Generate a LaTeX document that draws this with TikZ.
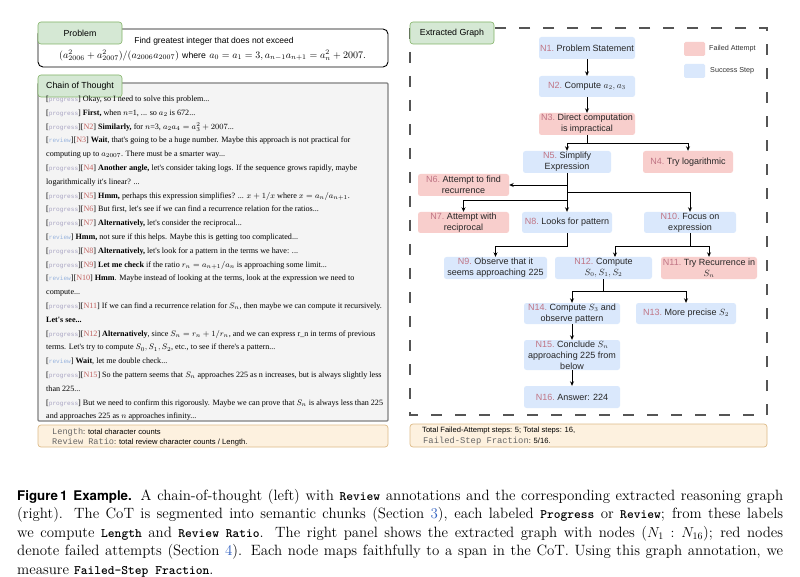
\documentclass[tikz,border=0pt]{standalone}
\usepackage{fontspec}
\usepackage{amsmath}
\newfontfamily\arialf{Liberation Sans}
\newfontfamily\timesf{Liberation Serif}
\newfontfamily\courf{Liberation Mono}
\newfontfamily\herosf{TeX Gyre Heros}
\usetikzlibrary{arrows.meta}
\definecolor{tabg}{HTML}{D5E8D4}
\definecolor{tabgd}{HTML}{82B366}
\definecolor{nblue}{HTML}{DAE8FC}
\definecolor{nred}{HTML}{F8CECC}
\definecolor{nlab}{HTML}{C07585}
\definecolor{peach}{HTML}{FDF1DF}
\definecolor{peachd}{HTML}{DDBB88}
\definecolor{cotbg}{HTML}{F4F4F4}
\definecolor{cotbd}{HTML}{808080}
\definecolor{tprog}{HTML}{A7A3C2}
\definecolor{trev}{HTML}{98B4DE}
\definecolor{tn}{HTML}{C0605E}
\definecolor{ttgray}{HTML}{666666}
\definecolor{linkblue}{HTML}{2F5FBF}
\definecolor{dashc}{HTML}{555555}
\newcommand{\tagP}{[{\courf\fontsize{6.1}{7}\selectfont\color{tprog}progress}]}
\newcommand{\tagR}{[{\courf\fontsize{6.1}{7}\selectfont\color{trev}review}]}
\newcommand{\tagN}[1]{[{\color{tn}N#1}]}
\newcommand{\lbl}[1]{{\color{nlab}#1}\ }
\newcommand{\ttb}[1]{{\ttfamily\bfseries\fontsize{12.9}{15}\selectfont #1}}
\begin{document}
\begin{tikzpicture}[x=1pt,y=-1pt,
  tab/.style={draw=tabgd, fill=tabg, rounded corners=3pt, line width=0.6pt, minimum width=84pt, minimum height=22pt, inner sep=0pt, font=\arialf\fontsize{8.8}{10}\selectfont},
  cottext/.style={anchor=base west, inner sep=0pt, font=\timesf\fontsize{8.1}{9}\selectfont},
  gnode/.style={rounded corners=2.5pt, inner sep=0pt, align=center, font=\arialf\fontsize{9}{11}\selectfont, text=black!85},
  bnode/.style={gnode, fill=nblue},
  rnode/.style={gnode, fill=nred},
  edge/.style={line width=0.9pt, black},
  arr/.style={edge, -{Stealth[length=4.5pt,width=4pt]}},
  legtext/.style={anchor=west, inner sep=0pt, font=\arialf\fontsize{7.2}{8}\selectfont, text=black!80},
  smalltext/.style={anchor=base west, inner sep=0pt, font=\arialf\fontsize{7.6}{9}\selectfont},
  capline/.style={anchor=base west, inner sep=0pt, font=\fontsize{14.9}{18.5}\selectfont}
]
\useasboundingbox (0,0) rectangle (800,577);
\fill[white] (0,0) rectangle (800,577);

% ---------- Left: problem ----------
\draw[line width=0.9pt, rounded corners=5pt, fill=white] (38,29) rectangle (388,67);
\node[tab] (tprob) at (80,33) {Problem};
\node[inner sep=0pt, font=\arialf\fontsize{8.5}{10}\selectfont] (pt1) at (214,41) {Find greatest integer that does not exceed};
\node[inner sep=0pt, font=\fontsize{10}{11}\selectfont] (pt2) at (212.5,55.5) {$(a_{2006}^2+a_{2007}^2)/(a_{2006}a_{2007})$ {\arialf\fontsize{8.7}{10}\selectfont where} $a_0=a_1=3, a_{n-1}a_{n+1}=a_n^2+2007$.};

% ---------- Left: chain of thought ----------
\draw[fill=cotbg, draw=cotbd, line width=1.1pt, rounded corners=1pt] (38,83) rectangle (388,421);
\node[tab] (tcot) at (80,86) {Chain of Thought};
\newcommand{\cotl}[2]{\node[cottext] (l#1) at (46,{101.5+13.8*(#1-1)}) {#2};}
\cotl{1}{\tagP\ Okay, so I need to solve this problem...}
\cotl{2}{\tagP\ \textbf{First,} when $n$=1, ... so $a_2$ is 672...}
\cotl{3}{\tagP\tagN{2} \textbf{Similarly,} for $n$=3, $a_2a_4=a_3^2+2007$...}
\cotl{4}{\tagR\tagN{3} \textbf{Wait}, that's going to be a huge number. Maybe this approach is not practical for}
\cotl{5}{computing up to $a_{2007}$. There must be a smarter way...}
\cotl{6}{\tagP\tagN{4} \textbf{Another angle,} let's consider taking logs. If the sequence grows rapidly, maybe}
\cotl{7}{logarithmically it's linear? ...}
\cotl{8}{\tagP\tagN{5} \textbf{Hmm,} perhaps this expression simplifies? ... $x+1/x$ where $x=a_n/a_{n+1}$.}
\cotl{9}{\tagP\tagN{6} But first, let's see if we can find a recurrence relation for the ratios...}
\cotl{10}{\tagP\tagN{7} \textbf{Alternatively,} let's consider the reciprocal...}
\cotl{11}{\tagR\ \textbf{Hmm,} not sure if this helps. Maybe this is getting too complicated...}
\cotl{12}{\tagP\tagN{8} \textbf{Alternatively,} let's look for a pattern in the terms we have: ...}
\cotl{13}{\tagP\tagN{9} \textbf{Let me check} if the ratio $r_n=a_{n+1}/a_n$ is approaching some limit...}
\cotl{14}{\tagR\tagN{10} \textbf{Hmm}. Maybe instead of looking at the terms, look at the expression we need to}
\cotl{15}{compute...}
\cotl{16}{\tagP\tagN{11} If we can find a recurrence relation for $S_n$, then maybe we can compute it recursively.}
\cotl{17}{\textbf{Let's see...}}
\cotl{18}{\tagP\tagN{12} \textbf{Alternatively}, since $S_n=r_n+1/r_n$, and we can express r\_n in terms of previous}
\cotl{19}{terms. Let's try to compute $S_0,S_1,S_2$, etc., to see if there's a pattern...}
\cotl{20}{\tagR\ \textbf{Wait}, let me double check...}
\cotl{21}{\tagP\tagN{15} So the pattern seems that $S_n$ approaches 225 as n increases, but is always slightly less}
\cotl{22}{than 225...}
\cotl{23}{\tagP\ But we need to confirm this rigorously. Maybe we can prove that $S_n$ is always less than 225}
\cotl{24}{and approaches 225 as $n$ approaches infinity...}

% ---------- Left: metrics ----------
\draw[fill=peach, draw=peachd, line width=0.7pt, rounded corners=3pt] (38,425) rectangle (388,447);
\node[smalltext] (len1) at (52,434) {{\courf\fontsize{8.6}{9}\selectfont\color{ttgray}Length}: total character counts};
\node[smalltext] (len2) at (52,444.5) {{\courf\fontsize{8.6}{9}\selectfont\color{ttgray}Review Ratio}: total review character counts / Length.};

% ---------- Right: graph frame ----------
\draw[dashc, line width=1.1pt, dash pattern=on 11pt off 13pt] (410,28) rectangle (767,415);
\node[tab] (tgraph) at (452,33) {Extracted Graph};

% legend
\fill[nred, rounded corners=1.5pt] (684,42) rectangle (705,56);
\fill[nblue, rounded corners=1.5pt] (684,64) rectangle (705,78);
\node[legtext] (lgf) at (709,49) {Failed Attempt};
\node[legtext] (lgs) at (710,71) {Success Step};

% nodes
\node[bnode, minimum width=96pt, minimum height=22pt] (n1) at (587,48) {\lbl{N1.}Problem Statement};
\node[bnode, minimum width=96pt, minimum height=21pt] (n2) at (587,86.5) {\lbl{N2.}Compute $a_2, a_3$};
\node[rnode, minimum width=96pt, minimum height=22pt] (n3) at (587,124) {\lbl{N3.}Direct computation\\is impractical};
\node[bnode, minimum width=88pt, minimum height=22pt] (n5) at (567,162) {\lbl{N5.}Simplify\\Expression};
\node[rnode, minimum width=90pt, minimum height=22pt] (n4) at (688,162) {\lbl{N4.}Try logarithmic};
\node[rnode, minimum width=91pt, minimum height=22pt] (n6) at (463.5,185) {\lbl{N6.}Attempt to find\\recurrence};
\node[rnode, minimum width=91pt, minimum height=21pt] (n7) at (463.5,222.5) {\lbl{N7.}Attempt with\\reciprocal};
\node[bnode, minimum width=90pt, minimum height=21pt] (n8) at (567,222.5) {\lbl{N8.}Looks for pattern};
\node[bnode, minimum width=92pt, minimum height=21pt] (n10) at (690,222.5) {\lbl{N10.}Focus on\\expression};
\node[bnode, minimum width=103pt, minimum height=22pt] (n9) at (495.5,268) {\lbl{N9.}Observe that it\\seems approaching 225};
\node[bnode, minimum width=97pt, minimum height=22pt] (n12) at (603.5,268) {\lbl{N12.}Compute\\$S_0, S_1, S_2$};
\node[rnode, minimum width=96pt, minimum height=22pt] (n11) at (709,268) {\lbl{N11.}Try Recurrence in\\$S_n$};
\node[bnode, minimum width=96pt, minimum height=21pt] (n14) at (572,313.5) {\lbl{N14.}Compute $S_3$ and\\observe pattern};
\node[bnode, minimum width=100pt, minimum height=21pt] (n13) at (686,313.5) {\lbl{N13.}More precise $S_2$};
\node[bnode, minimum width=96pt, minimum height=30pt] (n15) at (572,355) {\lbl{N15.}Conclude $S_n$\\approaching 225 from\\below};
\node[bnode, minimum width=96pt, minimum height=22pt] (n16) at (572,397) {\lbl{N16.}Answer: 224};

% edges
\draw[arr] (n1) -- (n2);
\draw[arr] (n2) -- (n3);
\coordinate (j3) at (587,143);
\draw[edge] (n3.south) -- (j3);
\draw[arr] (j3) -| (n5.north);
\draw[arr] (j3) -| (n4.north);
\draw[arr] (n5.south) -- (n8.north);
\coordinate (j6) at (567,185);
\draw[arr] (j6) -- (n6.east);
\coordinate (j10) at (567,192);
\draw[arr] (j10) -| (n10.north);
\coordinate (j7) at (567,200);
\draw[arr] (j7) -| (n7.north);
\coordinate (j8) at (567,246);
\draw[arr] (n8.south) -- (j8) -| (n9.north);
\coordinate (j10b) at (690,246);
\coordinate (n12in) at (615,257);
\draw[edge] (n10.south) -- (j10b);
\draw[arr] (j10b) -| (n12in);
\draw[arr] (j10b) -| (n11.north);
\coordinate (j12) at (603.5,291);
\draw[edge] (n12.south) -- (j12);
\draw[arr] (j12) -| (n14.north);
\draw[arr] (j12) -| (n13.north);
\draw[arr] (n14) -- (n15);
\draw[arr] (n15) -- (n16);

% bottom-right metrics
\draw[fill=peach, draw=peachd, line width=0.7pt, rounded corners=3pt] (410,424) rectangle (767,447);
\node[smalltext] (fs1) at (422,432) {Total Failed-Attempt steps: 5; Total steps: 16,};
\node[smalltext] (fs2) at (423,443.5) {{\courf\fontsize{8.8}{9}\selectfont\color{ttgray}Failed-Step Fraction}: 5/16.};

% ---------- Caption ----------
\node[capline] (cap1) at (17,500) {\makebox[766pt][s]{{\herosf\bfseries\fontsize{13.3}{15}\selectfont Figure\,1\hspace{0.45em}Example.} A chain-of-thought (left) with \ttb{Review} annotations and the corresponding extracted reasoning graph}};
\node[capline] (cap2) at (17,518.5) {\makebox[766pt][s]{(right). The CoT is segmented into semantic chunks (Section {\color{linkblue}3}), each labeled \ttb{Progress} or \ttb{Review}; from these labels}};
\node[capline] (cap3) at (17,537) {\makebox[766pt][s]{we compute \ttb{Length} and \ttb{Review Ratio}. The right panel shows the extracted graph with nodes ($N_1 : N_{16}$); red nodes}};
\node[capline] (cap4) at (17,555.5) {\makebox[766pt][s]{denote failed attempts (Section {\color{linkblue}4}). Each node maps faithfully to a span in the CoT. Using this graph annotation, we}};
\node[capline] (cap5) at (17,574) {measure \ttb{Failed-Step Fraction}.};
\end{tikzpicture}
\end{document}
